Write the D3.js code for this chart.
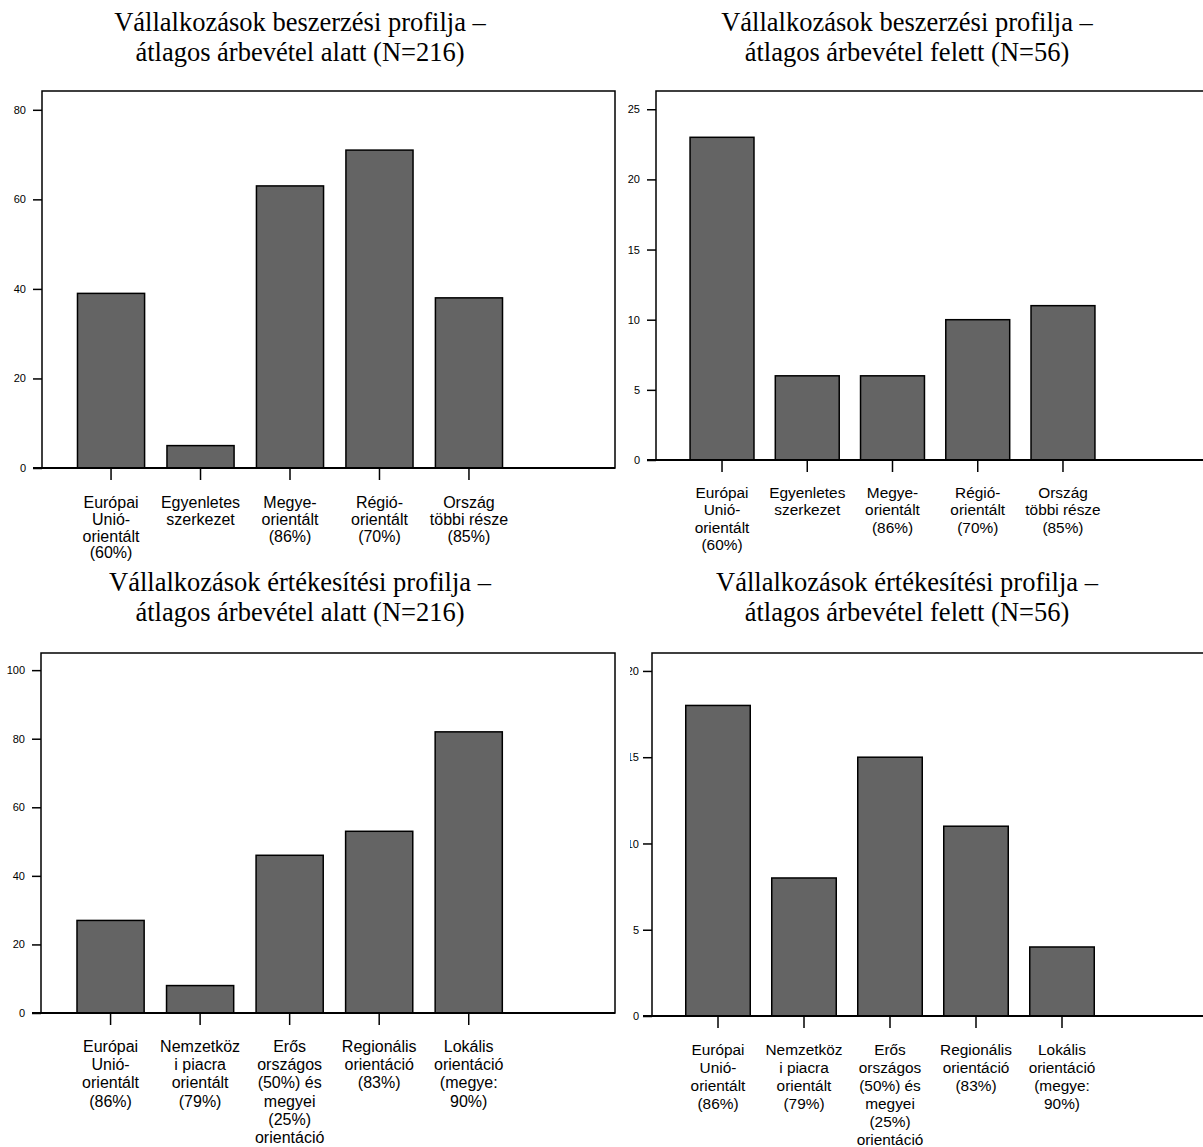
<!DOCTYPE html>
<html>
<head>
<meta charset="utf-8">
<script src="https://cdnjs.cloudflare.com/ajax/libs/d3/7.8.5/d3.min.js"></script>
<style>
  body { margin: 0; background: #fff; }
  svg { display: block; }
</style>
</head>
<body>
<svg width="1203" height="1147"></svg>
<script>
// category labels, already broken into lines as in the original
var purchaseCats = [
  ["Európai", "Unió-", "orientált", "(60%)"],
  ["Egyenletes", "szerkezet"],
  ["Megye-", "orientált", "(86%)"],
  ["Régió-", "orientált", "(70%)"],
  ["Ország", "többi része", "(85%)"]
];
var salesCats = [
  ["Európai", "Unió-", "orientált", "(86%)"],
  ["Nemzetköz", "i piacra", "orientált", "(79%)"],
  ["Erős", "országos", "(50%) és", "megyei", "(25%)", "orientáció"],
  ["Regionális", "orientáció", "(83%)"],
  ["Lokális", "orientáció", "(megye:", "90%)"]
];

// counts
var purchaseBelow = [39, 5, 63, 71, 38];
var purchaseAbove = [23, 6, 6, 10, 11];
var salesBelow = [27, 8, 46, 53, 82];
var salesAbove = [18, 8, 15, 11, 4];

// y ticks
var ticksPB = [0, 20, 40, 60, 80];
var ticksPA = [0, 5, 10, 15, 20, 25];
var ticksSB = [0, 20, 40, 60, 80, 100];
var ticksSA = [0, 5, 10, 15, 20];

var titlePB = ["Vállalkozások beszerzési profilja –", "átlagos árbevétel alatt (N=216)"];
var titlePA = ["Vállalkozások beszerzési profilja –", "átlagos árbevétel felett (N=56)"];
var titleSB = ["Vállalkozások értékesítési profilja –", "átlagos árbevétel alatt (N=216)"];
var titleSA = ["Vállalkozások értékesítési profilja –", "átlagos árbevétel felett (N=56)"];

var svg = d3.select("svg");

/* layout of the four panels (pixel boxes + y max of each frame) */
var panels = [
  {title: titlePB, cats: purchaseCats, values: purchaseBelow, ticks: ticksPB, yMax: 84.2,
   tx: 300, ty: 31, left: 42, right: 615, top: 91, bottom: 468, bx: [66.3, 513.7],
   fs: 16, lh: 16.8, ly: 40, pad: 7},
  {title: titlePA, cats: purchaseCats, values: purchaseAbove, ticks: ticksPA, yMax: 26.3,
   tx: 907, ty: 31, left: 656, right: 1230, top: 91, bottom: 460, bx: [679.4, 1105.6],
   fs: 15.4, lh: 17.4, ly: 38, pad: 7},
  {title: titleSB, cats: salesCats, values: salesBelow, ticks: ticksSB, yMax: 105,
   tx: 300, ty: 591, left: 41, right: 615, top: 653, bottom: 1013, bx: [65.8, 513.5],
   fs: 16, lh: 18.2, ly: 39, pad: 7},
  {title: titleSA, cats: salesCats, values: salesAbove, ticks: ticksSA, yMax: 21.04,
   tx: 907, ty: 591, left: 652, right: 1230, top: 653, bottom: 1016, bx: [675, 1105],
   fs: 15.4, lh: 18, ly: 39, pad: 4, clip: 630}
];

panels.forEach(function(p, pi) {
  var g = svg.append("g");

  // title
  g.append("text")
    .attr("x", p.tx).attr("y", p.ty)
    .attr("text-anchor", "middle")
    .style("font-family", "'Liberation Serif', 'Times New Roman', serif")
    .style("font-size", "26.5px")
    .selectAll("tspan")
    .data(p.title)
    .enter().append("tspan")
      .attr("x", p.tx)
      .attr("dy", function(d, i) { return i ? 30 : 0; })
      .text(function(d) { return d; });

  var x = d3.scaleBand()
      .domain(d3.range(p.values.length))
      .range(p.bx)
      .paddingInner(0.25)
      .paddingOuter(0.125);

  var y = d3.scaleLinear()
      .domain([0, p.yMax])
      .range([p.bottom, p.top]);

  // frame
  g.append("rect")
    .attr("x", p.left).attr("y", p.top)
    .attr("width", p.right - p.left).attr("height", p.bottom - p.top)
    .attr("fill", "none")
    .attr("stroke", "#000")
    .attr("stroke-width", 1.5);

  // bars
  g.selectAll(".bar")
    .data(p.values)
    .enter().append("rect")
      .attr("class", "bar")
      .attr("x", function(d, i) { return x(i); })
      .attr("y", function(d) { return y(d); })
      .attr("width", x.bandwidth())
      .attr("height", function(d) { return y(0) - y(d); })
      .attr("fill", "#646464")
      .attr("stroke", "#000")
      .attr("stroke-width", 1.5);

  // y axis
  var ya = g.append("g")
    .attr("transform", "translate(" + p.left + ",0)")
    .call(d3.axisLeft(y).tickValues(p.ticks).tickSize(9).tickPadding(p.pad));
  ya.select(".domain").remove();
  ya.selectAll("line").attr("stroke-width", 1.5);
  ya.selectAll("text")
    .style("font-family", "'Liberation Sans', Arial, sans-serif")
    .style("font-size", "11px")
    .attr("fill", "#000");
  if (p.clip) {
    // the original picture cuts the left edge of these labels
    ya.append("clipPath").attr("id", "clip" + pi)
      .append("rect")
        .attr("x", p.clip - p.left).attr("y", 0)
        .attr("width", 200).attr("height", 1147);
    ya.attr("clip-path", "url(#clip" + pi + ")");
  }

  // x axis: baseline + ticks
  var xa = g.append("g")
    .attr("transform", "translate(0," + p.bottom + ")")
    .call(d3.axisBottom(x).tickSize(12).tickSizeOuter(0).tickFormat(""));
  xa.select(".domain")
    .attr("d", "M" + (p.left - 9) + ",0H" + p.right)
    .attr("stroke-width", 2);
  xa.selectAll("line").attr("stroke-width", 1.5);

  // multi-line category labels
  var lab = g.selectAll(".cat")
    .data(p.cats)
    .enter().append("text")
      .attr("class", "cat")
      .attr("text-anchor", "middle")
      .attr("y", p.bottom + p.ly)
      .style("font-family", "'Liberation Sans', Arial, sans-serif")
      .style("font-size", p.fs + "px");
  lab.selectAll("tspan")
    .data(function(d, i) { return d.map(function(t) { return {t: t, i: i}; }); })
    .enter().append("tspan")
      .attr("x", function(d) { return x(d.i) + x.bandwidth() / 2; })
      .attr("dy", function(d, j) { return j ? p.lh : 0; })
      .text(function(d) { return d.t; });
});
</script>
</body>
</html>
